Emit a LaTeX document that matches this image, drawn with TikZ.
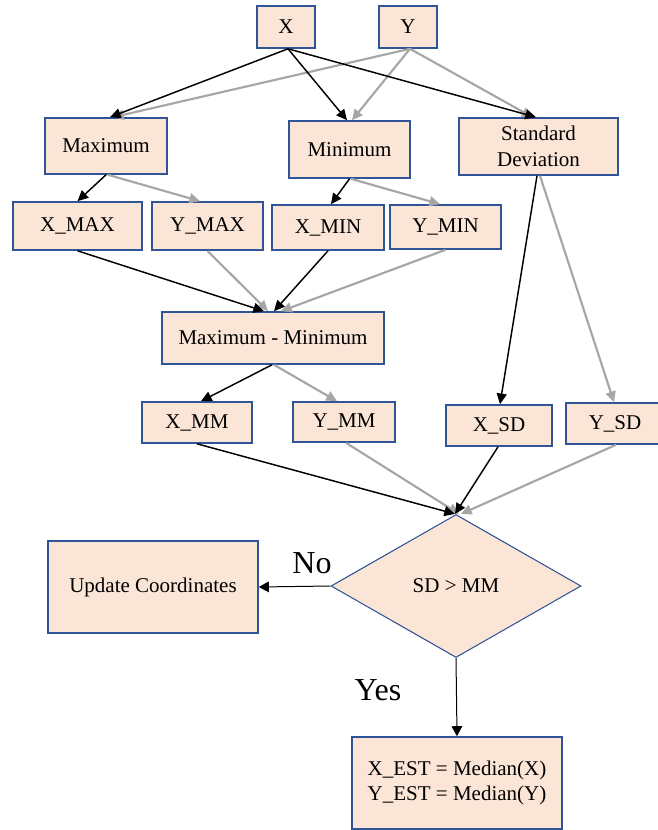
\documentclass[tikz,border=0pt]{standalone}
\usepackage{fontspec}
\setmainfont{Liberation Serif}
\newfontfamily\tnr{Liberation Serif}
\usetikzlibrary{arrows.meta,calc,shapes.geometric}
\definecolor{boxfill}{HTML}{FBE5D6}
\definecolor{boxline}{HTML}{2F5597}
\definecolor{garrow}{HTML}{A6A6A6}
\begin{document}
\begin{tikzpicture}[x=0.75pt,y=-0.75pt,
  box/.style={draw=boxline,fill=boxfill,line width=1.2pt,inner sep=0pt,align=center,
    font=\tnr\fontsize{15.75}{19.5}\selectfont},
  dia/.style={diamond,draw=boxline,fill=boxfill,line width=0.8pt,inner sep=0pt,align=center,
    font=\tnr\fontsize{15.75}{19.5}\selectfont},
  blk/.style={draw=black,line width=1.1pt,-{Triangle[length=8pt,width=7.5pt]}},
  gry/.style={draw=garrow,line width=1.6pt,-{Triangle[length=8pt,width=7.5pt]}},
  thin/.style={draw=black,line width=0.75pt,-{Triangle[length=7.5pt,width=8pt]}},
  lbl/.style={inner sep=0pt,font=\tnr\fontsize{24}{28}\selectfont}]
\useasboundingbox (0,0) rectangle (657,830);

% nodes
\node[box,minimum width=43.5pt,minimum height=31.5pt] (X) at (286,27) {X};
\node[box,minimum width=43.5pt,minimum height=31.5pt] (Y) at (408,27) {Y};
\node[box,minimum width=91.5pt,minimum height=42pt] (Max) at (106,146) {Maximum};
\node[box,minimum width=90.75pt,minimum height=42.75pt] (Min) at (349.5,149.5) {Minimum};
\node[box,minimum width=119.25pt,minimum height=42.75pt] (SD) at (538.5,146.5) {Standard\\Deviation};
\node[box,minimum width=96.75pt,minimum height=36pt] (XMAX) at (77.5,226) {X\_MAX};
\node[box,minimum width=83.25pt,minimum height=36pt] (YMAX) at (207.5,226) {Y\_MAX};
\node[box,minimum width=84pt,minimum height=33.75pt] (XMIN) at (328,227.5) {X\_MIN};
\node[box,minimum width=83.25pt,minimum height=33pt] (YMIN) at (445.5,227) {Y\_MIN};
\node[box,minimum width=166.5pt,minimum height=39pt] (MM) at (273,338) {Maximum - Minimum};
\node[box,minimum width=82.5pt,minimum height=30.75pt] (XMM) at (197,422.5) {X\_MM};
\node[box,minimum width=76.5pt,minimum height=30pt] (YMM) at (344,422) {Y\_MM};
\node[box,minimum width=79.5pt,minimum height=30.75pt] (XSD) at (499,425.5) {X\_SD};
\node[box,minimum width=73.5pt,minimum height=30.75pt] (YSD) at (615,423.5) {Y\_SD};
\node[dia,minimum width=187.5pt,minimum height=107.25pt] (D) at (456,586) {SD > MM};
\node[box,minimum width=157.5pt,minimum height=69pt] (UPD) at (153,587) {Update Coordinates};
\node[box,minimum width=157.5pt,minimum height=69pt,font=\tnr\fontsize{15.75}{18.75}\selectfont] (EST) at (457,783) {X\_EST = Median(X)\\Y\_EST = Median(Y)};
\node[lbl] (no) at (312,563) {No};
\node[lbl] (yes) at (378,690) {Yes};

% gray connectors
\draw[gry] ($(Y.south)+(2,0)$) -- ($(Max.north)+(7,0)$);
\draw[gry] ($(Y.south)+(2,0)$) -- ($(Min.north)+(2.5,0)$);
\draw[gry] ($(Y.south)+(2,0)$) -- ($(SD.north)+(-6,0)$);
\draw[gry] ($(Max.south)+(2,0)$) -- ($(YMAX.north)+(-7.5,0)$);
\draw[gry] ($(Min.south)+(1.5,0)$) -- ($(YMIN.north)+(-5.5,0)$);
\draw[gry] (YMAX.south) -- ($(MM.north)+(-5,0)$);
\draw[gry] (YMIN.south) -- ($(MM.north)+(8,0)$);
\draw[gry] ($(MM.south)+(1,0)$) -- ($(YMM.north)+(-7,0)$);
\draw[gry] ($(SD.south)+(1.5,0)$) -- ($(YSD.north)+(-1,0)$);
\draw[gry] ($(YMM.south)+(2,0)$) -- ($(D.north)+(3,0)$);
\draw[gry] ($(YSD.south)+(1,0)$) -- ($(D.north)+(5,0)$);

% black connectors
\draw[blk] ($(X.south)+(2,0)$) -- ($(Max.north)+(4,0)$);
\draw[blk] ($(X.south)+(2,0)$) -- ($(Min.north)+(-2.5,0)$);
\draw[blk] ($(X.south)+(2,0)$) -- ($(SD.north)+(-2.5,0)$);
\draw[blk] (Max.south) -- (XMAX.north);
\draw[blk] (Min.south) -- ($(XMIN.north)+(3,0)$);
\draw[blk] (XMAX.south) -- ($(MM.north)+(-9,0)$);
\draw[blk] (XMIN.south) -- ($(MM.north)+(1,0)$);
\draw[blk] ($(MM.south)+(-1,0)$) -- ($(XMM.north)+(4,0)$);
\draw[blk] ($(SD.south)+(-1.5,0)$) -- ($(XSD.north)+(1,0)$);
\draw[blk] (XMM.south) -- ($(D.north)+(-1,0)$);
\draw[blk] ($(XSD.south)+(-1,0)$) -- ($(D.north)+(-1,0)$);

% decision outputs
\draw[thin] (D.west) -- (UPD.east);
\draw[thin] (D.south) -- (EST.north);
\end{tikzpicture}
\end{document}
